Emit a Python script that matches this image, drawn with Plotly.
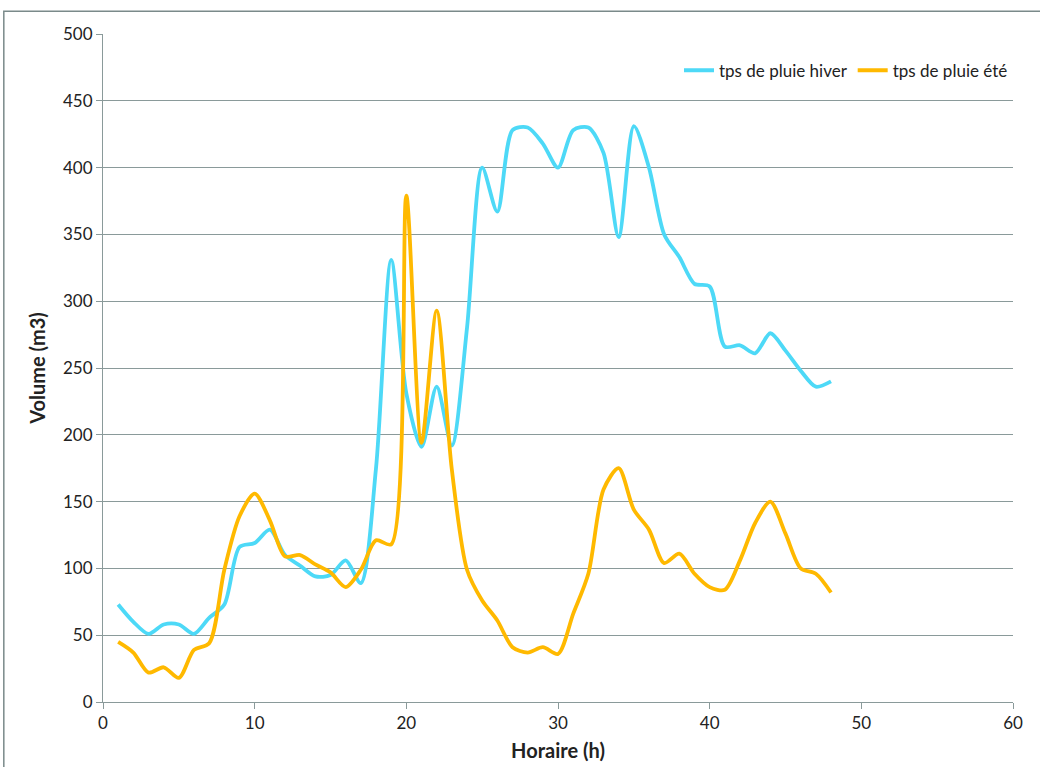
import plotly.graph_objects as go

heures = list(range(1, 49))
hiver = [73, 60, 51, 58, 58, 51, 63, 73, 116, 119, 129, 110, 102, 94, 95, 106,
         89, 175, 331, 231, 191, 236, 192, 280, 400, 367, 428, 430, 418, 400, 428, 430,
         411, 348, 431, 400, 350, 333, 313, 311, 266, 267, 261, 276, 263, 248, 236, 240]
ete = [45, 37, 22, 26, 18, 39, 44, 99, 139, 156, 136, 109, 110, 103, 97, 86,
       99, 121, 118, 379, 194, 293, 174, 99, 76, 61, 41, 37, 41, 36, 66, 96,
       159, 175, 144, 129, 104, 111, 96, 86, 84, 106, 134, 150, 126, 100, 96, 82]

font = "Lato, Carlito, sans-serif"
grid = "#8a9a9a"

fig = go.Figure()
fig.add_trace(go.Scatter(x=heures, y=hiver, name="tps de pluie hiver", mode="lines",
                         line=dict(color="#4dd9f7", width=3.8, shape="spline", smoothing=0.8)))
fig.add_trace(go.Scatter(x=heures, y=ete, name="tps de pluie été", mode="lines",
                         line=dict(color="#ffb900", width=3.8, shape="spline", smoothing=0.8)))

fig.update_layout(
    width=1040, height=767,
    margin=dict(l=103, r=27, t=34, b=65),
    paper_bgcolor="white", plot_bgcolor="white",
    font=dict(family=font, size=17, color="#222"),
    legend=dict(orientation="h", x=1, xanchor="right", y=0.972, yanchor="top",
                font=dict(size=17), bgcolor="rgba(0,0,0,0)"),
    # outer chart frame, partly cropped like in the original screenshot
    shapes=[dict(type="rect", xref="paper", yref="paper", x0=-0.109, y0=-0.2,
                 x1=1.05, y1=1.034, line=dict(color="#7a8a8a", width=1.5))],
)
fig.update_xaxes(range=[0, 60], tick0=0, dtick=10, showgrid=False, automargin=False,
                 showline=True, linecolor=grid, ticks="outside", ticklen=6, tickcolor=grid,
                 title=dict(text="<b>Horaire (h)</b>", standoff=11), zeroline=False)
fig.update_yaxes(range=[0, 500], tick0=0, dtick=50, showgrid=True, gridcolor=grid,
                 showline=True, linecolor=grid, ticks="outside", ticklen=6, tickcolor=grid,
                 automargin=False,
                 title=dict(text="<b>Volume (m3)</b>", standoff=12), zeroline=False)

fig.write_html("out.html", config={"displayModeBar": False},
               post_script="document.body.style.margin='0';")
